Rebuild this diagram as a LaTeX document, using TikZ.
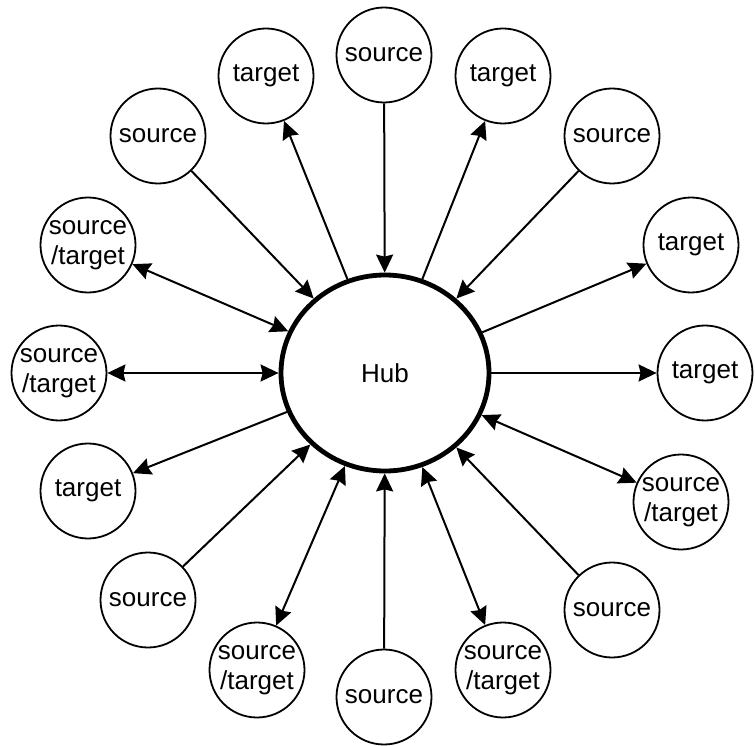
\documentclass[tikz,border=0pt]{standalone}
\usepackage{fontspec}
\setmainfont{Liberation Sans}
\usetikzlibrary{arrows.meta,shapes.geometric}
\begin{document}
\begin{tikzpicture}[x=1pt,y=-1pt,
  sat/.style={circle,draw,line width=1.8pt,minimum size=95pt,inner sep=0pt,align=center,font=\fontsize{26}{30}\selectfont},
  hubnode/.style={ellipse,draw,line width=4.8pt,minimum width=208pt,minimum height=196pt,inner sep=0pt,font=\fontsize{26}{30}\selectfont},
  link/.style={line width=2pt},
  >={Stealth[length=18pt,width=17pt,inset=2pt]}
]
\useasboundingbox (0,0) rectangle (755,746);
\node[hubnode] (hub) at (385,373) {Hub};
\node[sat] (s1) at (384,55) {source};
\node[sat] (s2) at (266,76) {target};
\node[sat] (s3) at (503,76) {target};
\node[sat] (s4) at (158,136) {source};
\node[sat] (s5) at (612,136) {source};
\node[sat] (s6) at (88,245) {source\\/target};
\node[sat] (s7) at (691,245) {target};
\node[sat] (s8) at (59,373) {source\\/target};
\node[sat] (s9) at (705,373) {target};
\node[sat] (s10) at (88,491) {target};
\node[sat] (s11) at (681,502) {source\\/target};
\node[sat] (s12) at (148,600) {source};
\node[sat] (s13) at (612,610) {source};
\node[sat] (s14) at (257,670) {source\\/target};
\node[sat] (s15) at (503,670) {source\\/target};
\node[sat] (s16) at (384,697) {source};
\draw[link,->] (s1) -- (hub);
\draw[link,->] (hub) -- (s2);
\draw[link,->] (hub) -- (s3);
\draw[link,->] (s4) -- (hub);
\draw[link,->] (s5) -- (hub);
\draw[link,<->] (s6) -- (hub);
\draw[link,->] (hub) -- (s7);
\draw[link,<->] (s8) -- (hub);
\draw[link,->] (hub) -- (s9);
\draw[link,->] (hub) -- (s10);
\draw[link,<->] (s11) -- (hub);
\draw[link,->] (s12) -- (hub);
\draw[link,->] (s13) -- (hub);
\draw[link,<->] (s14) -- (hub);
\draw[link,<->] (s15) -- (hub);
\draw[link,->] (s16) -- (hub);
\end{tikzpicture}
\end{document}
